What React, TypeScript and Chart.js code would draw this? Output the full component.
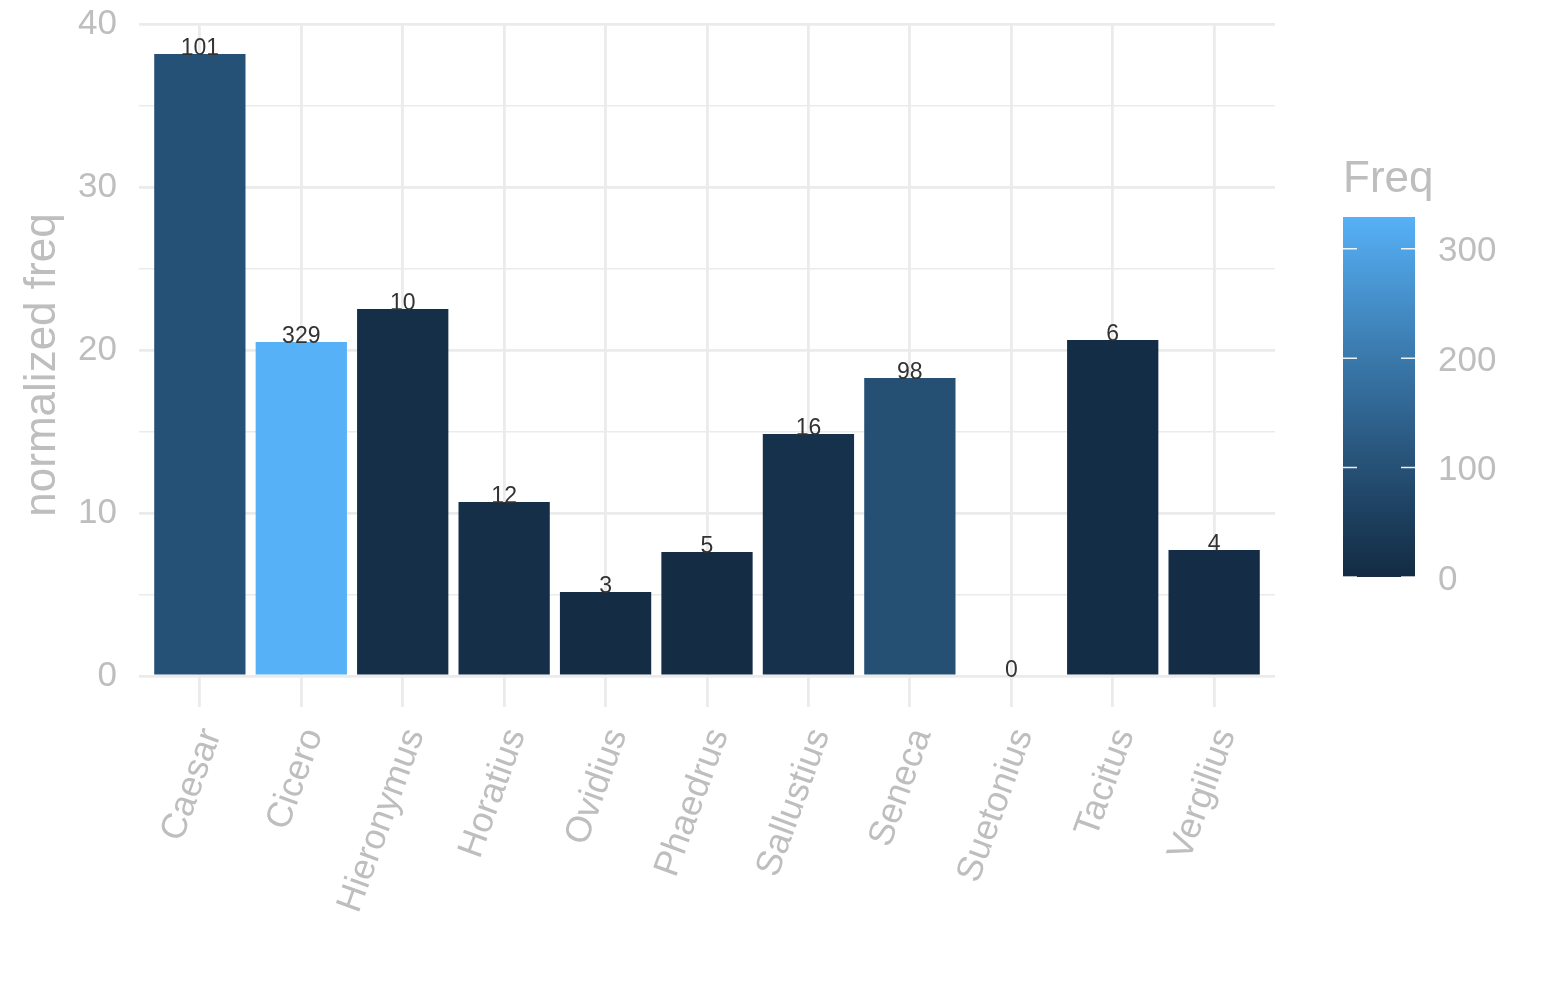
import React, { useEffect, useRef } from "react";
import { Chart, registerables } from "chart.js";

Chart.register(...registerables);

// data
const authors = ["Caesar", "Cicero", "Hieronymus", "Horatius", "Ovidius", "Phaedrus", "Sallustius", "Seneca", "Suetonius", "Tacitus", "Vergilius"];
const normFreq = [38.16, 20.49, 22.52, 10.67, 5.15, 7.61, 14.85, 18.28, 0, 20.61, 7.73];
const freq = [101, 329, 10, 12, 3, 5, 16, 98, 0, 6, 4];
const yTicks = [0, 5, 10, 15, 20, 25, 30, 35, 40];
const legendTicks = [0, 100, 200, 300];

const LOW = "#132B43";
const HIGH = "#56B1F7";
const GREY = "#bebebe";
const GRID = "#ebebeb";
const FONT = "'Liberation Sans', Arial, Helvetica, sans-serif";

// ggplot style gradient, interpolated in Lab
const hexToRgb = (h: string) => [1, 3, 5].map(i => parseInt(h.slice(i, i + 2), 16));
const toLin = (c: number) => { c /= 255; return c <= 0.04045 ? c / 12.92 : Math.pow((c + 0.055) / 1.055, 2.4); };
const fromLin = (c: number) => {
    const v = c <= 0.0031308 ? 12.92 * c : 1.055 * Math.pow(c, 1 / 2.4) - 0.055;
    return Math.max(0, Math.min(255, Math.round(v * 255)));
};
const WN = [0.95047, 1, 1.08883];
const rgbToLab = (rgb: number[]) => {
    const [r, g, b] = rgb.map(toLin);
    const xyz = [
        0.4124 * r + 0.3576 * g + 0.1805 * b,
        0.2126 * r + 0.7152 * g + 0.0722 * b,
        0.0193 * r + 0.1192 * g + 0.9505 * b,
    ].map((v, i) => v / WN[i]);
    const f = (t: number) => (t > 0.008856 ? Math.cbrt(t) : 7.787 * t + 16 / 116);
    const [fx, fy, fz] = xyz.map(f);
    return [116 * fy - 16, 500 * (fx - fy), 200 * (fy - fz)];
};
const labToRgb = (lab: number[]) => {
    const fy = (lab[0] + 16) / 116;
    const fx = fy + lab[1] / 500;
    const fz = fy - lab[2] / 200;
    const inv = (t: number) => (t * t * t > 0.008856 ? t * t * t : (t - 16 / 116) / 7.787);
    const [x, y, z] = [inv(fx), inv(fy), inv(fz)].map((v, i) => v * WN[i]);
    const r = 3.2406 * x - 1.5372 * y - 0.4986 * z;
    const g = -0.9689 * x + 1.8758 * y + 0.0415 * z;
    const b = 0.0557 * x - 0.204 * y + 1.057 * z;
    return [r, g, b].map(fromLin);
};
const labLow = rgbToLab(hexToRgb(LOW));
const labHigh = rgbToLab(hexToRgb(HIGH));
const colorAt = (t: number) => {
    const lab = labLow.map((v, i) => v + (labHigh[i] - v) * t);
    const [r, g, b] = labToRgb(lab);
    return `rgb(${r},${g},${b})`;
};
const fMin = Math.min(...freq);
const fMax = Math.max(...freq);
const colorFor = (v: number) => colorAt((v - fMin) / (fMax - fMin));

const yPad = (Math.max(...normFreq) - 0) * 0.05;

const labelsPlugin = {
    id: "barLabels",
    afterDatasetsDraw(chart: any) {
        const ctx = chart.ctx;
        const meta = chart.getDatasetMeta(0);
        ctx.save();
        ctx.font = `23px ${FONT}`;
        ctx.fillStyle = "#333333";
        ctx.textAlign = "center";
        ctx.textBaseline = "alphabetic";
        meta.data.forEach((el: any, i: number) => {
            ctx.fillText(String(freq[i]), el.x, el.y + 1);
        });
        ctx.restore();
    },
};

// colourbar legend on the right
const legendPlugin = {
    id: "colourbar",
    afterDraw(chart: any) {
        const ctx = chart.ctx;
        const x0 = 1343, w = 72, yBottom = 577, yTop = 217;
        const pxPer = (yBottom - yTop) / (fMax - fMin);
        ctx.save();
        ctx.font = `44px ${FONT}`;
        ctx.fillStyle = GREY;
        ctx.textAlign = "left";
        ctx.textBaseline = "alphabetic";
        ctx.fillText("Freq", x0, 192);

        const grad = ctx.createLinearGradient(0, yBottom, 0, yTop);
        for (let i = 0; i <= 30; i++) grad.addColorStop(i / 30, colorAt(i / 30));
        ctx.fillStyle = grad;
        ctx.fillRect(x0, yTop, w, yBottom - yTop);

        ctx.strokeStyle = "rgba(255,255,255,0.9)";
        ctx.lineWidth = 1.5;
        ctx.font = `35px ${FONT}`;
        ctx.fillStyle = GREY;
        ctx.textBaseline = "middle";
        legendTicks.forEach(t => {
            const y = yBottom - (t - fMin) * pxPer;
            ctx.beginPath();
            ctx.moveTo(x0, y); ctx.lineTo(x0 + 14, y);
            ctx.moveTo(x0 + w - 14, y); ctx.lineTo(x0 + w, y);
            ctx.stroke();
            ctx.fillText(String(t), 1438, y + 3);
        });
        ctx.restore();
    },
};

function BarChart() {
    const canvasRef = useRef<HTMLCanvasElement>(null);

    useEffect(() => {
        if (!canvasRef.current) return;
        const chart = new Chart(canvasRef.current, {
            type: "bar",
            data: {
                datasets: [
                    {
                        label: "normalized freq",
                        data: normFreq.map((v, i) => ({ x: i, y: v })),
                        backgroundColor: freq.map(colorFor),
                        borderWidth: 0,
                        barPercentage: 0.9,
                        categoryPercentage: 1,
                    },
                ],
            },
            options: {
                animation: false,
                responsive: true,
                maintainAspectRatio: false,
                layout: { padding: { top: 23, right: 270, bottom: 0, left: 0 } },
                plugins: { legend: { display: false }, tooltip: { enabled: false } },
                scales: {
                    x: {
                        type: "linear",
                        offset: false,
                        min: -0.6,
                        max: authors.length - 1 + 0.6,
                        afterBuildTicks: (scale: any) => {
                            scale.ticks = authors.map((_, i) => ({ value: i }));
                        },
                        afterFit: (scale: any) => { scale.height = 293; },
                        grid: { color: GRID, lineWidth: 2.8, drawTicks: false, offset: false },
                        border: { display: false },
                        ticks: {
                            autoSkip: false,
                            minRotation: 70,
                            maxRotation: 70,
                            padding: 16,
                            labelOffset: 12,
                            color: GREY,
                            font: { family: FONT, size: 36 },
                            callback: (v: any) => authors[v] ?? "",
                        },
                    },
                    y: {
                        min: -yPad,
                        max: Math.max(...normFreq) + yPad,
                        afterBuildTicks: (scale: any) => {
                            scale.ticks = yTicks.map(v => ({ value: v }));
                        },
                        afterFit: (scale: any) => {
                            scale.width = 139;
                            scale.paddingTop = 0;
                            scale.paddingBottom = 0;
                        },
                        grid: {
                            color: GRID,
                            drawTicks: false,
                            lineWidth: (c: any) => (c.tick && c.tick.value % 10 === 0 ? 2.8 : 1.4),
                        },
                        border: { display: false },
                        ticks: {
                            padding: 22,
                            color: GREY,
                            font: { family: FONT, size: 35 },
                            callback: (v: any) => (v % 10 === 0 ? String(v) : ""),
                        },
                        title: {
                            display: true,
                            text: "normalized freq",
                            color: GREY,
                            font: { family: FONT, size: 44 },
                            padding: { top: 16, bottom: 0 },
                        },
                    },
                },
            },
            plugins: [labelsPlugin, legendPlugin],
        } as any);
        return () => chart.destroy();
    }, []);

    return <canvas ref={canvasRef} />;
}

export default function App() {
    return (
        <div style={{ position: "fixed", left: 0, top: 0, width: 1545, height: 1000, background: "#fff" }}>
            <BarChart />
        </div>
    );
}
